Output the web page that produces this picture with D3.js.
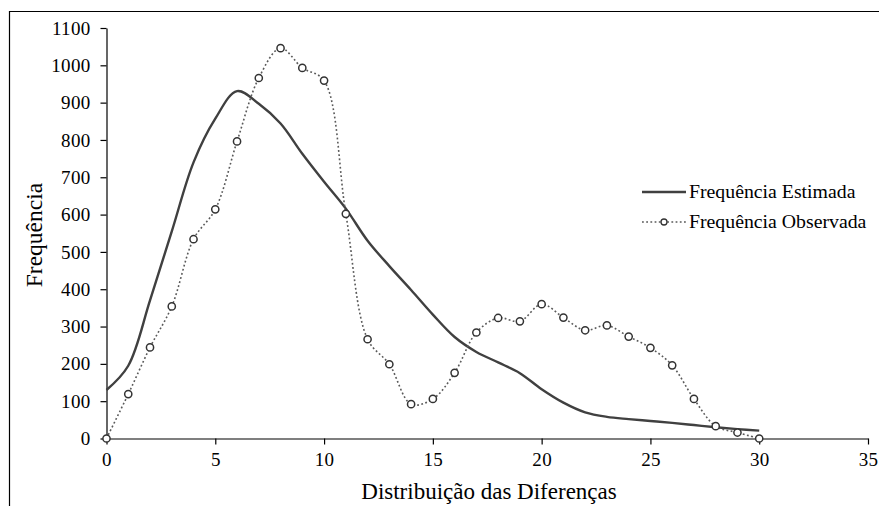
<!DOCTYPE html>
<html>
<head>
<meta charset="utf-8">
<script src="https://cdn.jsdelivr.net/npm/d3@7"></script>
<style>
  html, body { margin: 0; padding: 0; background: #fff; }
  svg { display: block; }
  text { font-family: "Liberation Serif", "Times New Roman", serif; fill: #000; }
</style>
</head>
<body>
<svg id="chart" width="879" height="506"></svg>
<script>
const xValues = d3.range(0, 31);
const estimada = [130, 195, 370, 555, 740, 857, 931, 897, 844, 763, 688, 616, 530, 462, 398, 332, 272, 232, 204, 175, 132, 96, 70, 58, 52, 47, 42, 36, 30, 25, 21];
const observada = [0, 119, 244, 354, 534, 614, 796, 966, 1046, 993, 959, 602, 266, 199, 92, 106, 176, 284, 323, 314, 360, 324, 290, 303, 273, 243, 196, 106, 33, 16, 0];
const xTicks = [0, 5, 10, 15, 20, 25, 30, 35];
const yTicks = [0, 100, 200, 300, 400, 500, 600, 700, 800, 900, 1000, 1100];
const seriesNames = ["Frequência Estimada", "Frequência Observada"];
const xTitle = "Distribuição das Diferenças";
const yTitle = "Frequência";

const svg = d3.select("#chart");
svg.append("rect").attr("width", 879).attr("height", 506).attr("fill", "#fff");

// outer frame (cropped: left and top visible)
svg.append("path").attr("d", "M9.5,506 L9.5,11.5 L879,11.5")
  .attr("fill", "none").attr("stroke", "#000").attr("stroke-width", 1.2);

const x = d3.scaleLinear().domain([0, 35]).range([106.5, 868]);
const y = d3.scaleLinear().domain([0, 1100]).range([438.5, 28]);

const axisColor = "#000";
const gx = svg.append("g").attr("transform", `translate(0,${y(0)})`)
  .call(d3.axisBottom(x).tickValues(xTicks).tickFormat(d3.format("d")).tickSize(6).tickSizeOuter(0).tickPadding(8));
const gy = svg.append("g").attr("transform", `translate(${x(0)},0)`)
  .call(d3.axisLeft(y).tickValues(yTicks).tickFormat(d3.format("d")).tickSize(6).tickSizeOuter(0).tickPadding(10));
[gx, gy].forEach(g => {
  g.attr("font-family", null).attr("font-size", null);
  g.select(".domain").attr("stroke", axisColor).attr("stroke-width", 1.2);
  g.selectAll(".tick line").attr("stroke", axisColor).attr("stroke-width", 1.2);
  g.selectAll(".tick text")
    .style("font-family", '"Liberation Serif", serif')
    .style("font-size", "19px").style("letter-spacing", "0.3px").style("fill", "#000");
});

const line = d3.line().x((d, i) => x(xValues[i])).y(d => y(d)).curve(d3.curveCatmullRom.alpha(0.5));

svg.append("path").datum(estimada).attr("d", line)
  .attr("fill", "none").attr("stroke", "#404040").attr("stroke-width", 2.4);

svg.append("path").datum(observada).attr("d", line)
  .attr("fill", "none").attr("stroke", "#5a5a5a").attr("stroke-width", 1.6)
  .attr("stroke-dasharray", "1.8,2.4");

svg.append("g").selectAll("circle").data(observada).join("circle")
  .attr("cx", (d, i) => x(xValues[i])).attr("cy", d => y(d)).attr("r", 3.6)
  .attr("fill", "#fff").attr("stroke", "#333").attr("stroke-width", 1.5);

// axis titles
svg.append("text").attr("x", 489).attr("y", 499).attr("text-anchor", "middle")
  .style("font-size", "23px").text(xTitle);
svg.append("text").attr("transform", "translate(42,235) rotate(-90)").attr("text-anchor", "middle")
  .style("font-size", "23.5px").text(yTitle);

// legend
const lg = svg.append("g");
lg.append("line").attr("x1", 642).attr("x2", 686).attr("y1", 192).attr("y2", 192)
  .attr("stroke", "#404040").attr("stroke-width", 2.4);
lg.append("line").attr("x1", 642).attr("x2", 686).attr("y1", 222).attr("y2", 222)
  .attr("stroke", "#5a5a5a").attr("stroke-width", 1.6).attr("stroke-dasharray", "1.8,2.4");
lg.append("circle").attr("cx", 664).attr("cy", 222).attr("r", 3)
  .attr("fill", "#fff").attr("stroke", "#333").attr("stroke-width", 1.3);
lg.selectAll("text.leg").data(seriesNames).join("text").attr("class", "leg")
  .attr("x", 689).attr("y", (d, i) => 198 + i * 30).style("font-size", "19.8px").text(d => d);
</script>
</body>
</html>
